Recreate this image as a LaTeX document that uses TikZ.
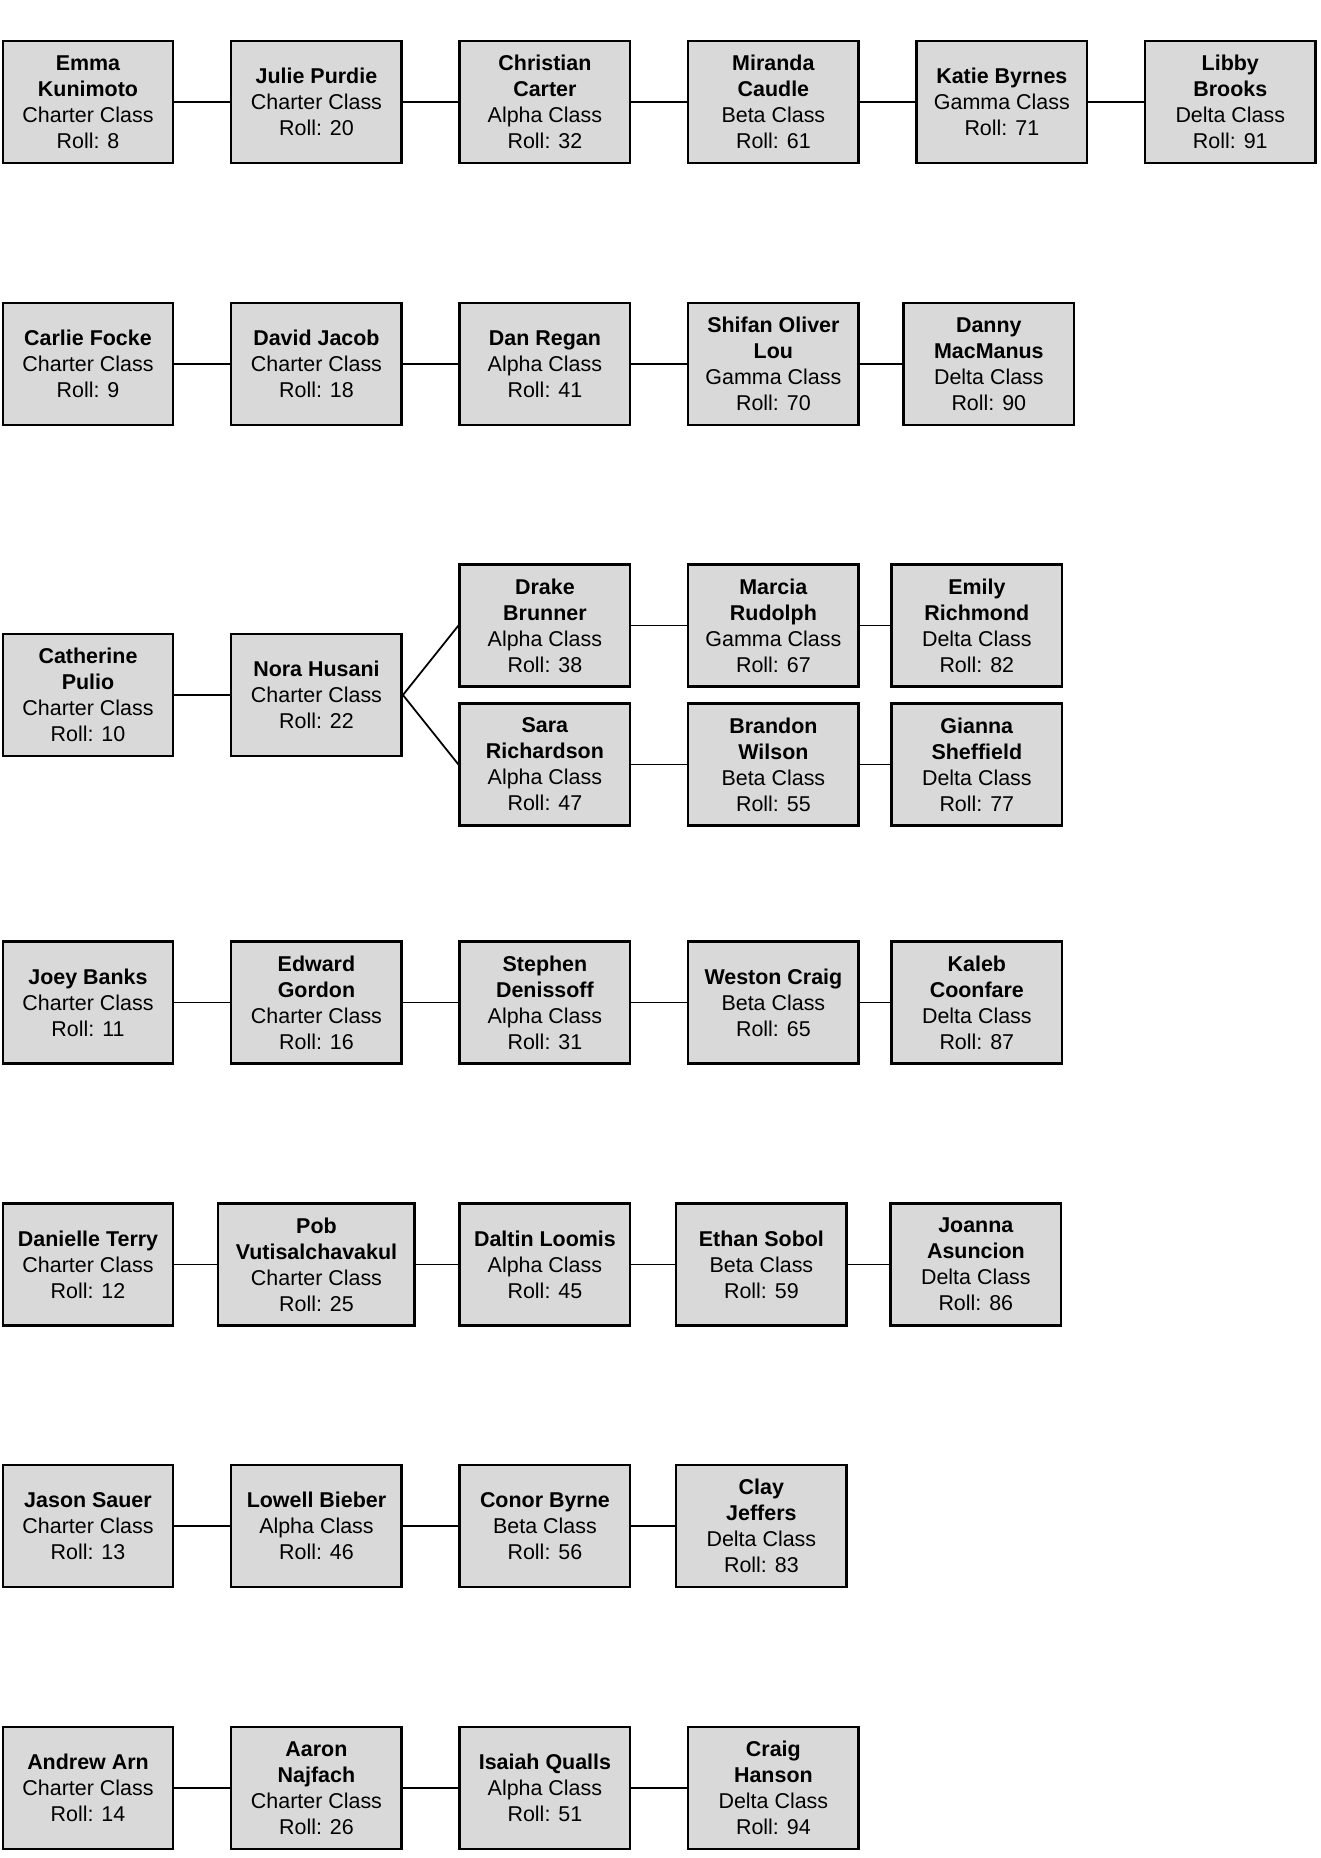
\documentclass[tikz,border=0pt]{standalone}
\usepackage{fontspec}
\setmainfont{Liberation Sans}
\usetikzlibrary{positioning}
\definecolor{boxgray}{HTML}{D9D9D9}

\begin{document}
\begin{tikzpicture}[node distance=1.11cm, every node/.style={font=\fontsize{12.2}{14.8}\selectfont}]
    % Styles
    \tikzstyle{member} = [rectangle, minimum width=3.41cm, minimum height=2.44cm, inner sep=2pt, align=center, draw=black, line width=1.4pt, fill=boxgray]
    \tikzstyle{link} = [line width=1pt]

    \useasboundingbox (0,0) rectangle (26.4,-37.16);

    % Row 1
    \node (emma) [member] at (1.76,-2.04) {\textbf{Emma}\\\textbf{Kunimoto}\\Charter Class\\Roll: 8};
    \node (julie) [member, right=of emma] {\textbf{Julie Purdie}\\Charter Class\\Roll: 20};
    \node (christian) [member, right=of julie] {\textbf{Christian}\\\textbf{Carter}\\Alpha Class\\Roll: 32};
    \node (miranda) [member, right=of christian] {\textbf{Miranda}\\\textbf{Caudle}\\Beta Class\\Roll: 61};
    \node (katie) [member, right=of miranda] {\textbf{Katie Byrnes}\\Gamma Class\\Roll: 71};
    \node (libby) [member, right=of katie] {\textbf{Libby}\\\textbf{Brooks}\\Delta Class\\Roll: 91};

    % Row 2
    \node (carlie) [member] at (1.76,-7.28) {\textbf{Carlie Focke}\\Charter Class\\Roll: 9};
    \node (david) [member, right=of carlie] {\textbf{David Jacob}\\Charter Class\\Roll: 18};
    \node (dan) [member, right=of david] {\textbf{Dan Regan}\\Alpha Class\\Roll: 41};
    \node (shifan) [member, right=of dan] {\textbf{Shifan Oliver}\\\textbf{Lou}\\Gamma Class\\Roll: 70};
    \node (danny) [member, right=0.85cm of shifan] {\textbf{Danny}\\\textbf{MacManus}\\Delta Class\\Roll: 90};

    % Row 3
    \node (catherine) [member] at (1.76,-13.9) {\textbf{Catherine}\\\textbf{Pulio}\\Charter Class\\Roll: 10};
    \node (nora) [member, right=of catherine] {\textbf{Nora Husani}\\Charter Class\\Roll: 22};
    \node (drake) [member, right=of nora, yshift=1.39cm] {\textbf{Drake}\\\textbf{Brunner}\\Alpha Class\\Roll: 38};
    \node (sara) [member, right=of nora, yshift=-1.39cm] {\textbf{Sara}\\\textbf{Richardson}\\Alpha Class\\Roll: 47};
    \node (marcia) [member, right=of drake] {\textbf{Marcia}\\\textbf{Rudolph}\\Gamma Class\\Roll: 67};
    \node (emily) [member, right=0.61cm of marcia] {\textbf{Emily}\\\textbf{Richmond}\\Delta Class\\Roll: 82};
    \node (brandon) [member, right=of sara] {\textbf{Brandon}\\\textbf{Wilson}\\Beta Class\\Roll: 55};
    \node (gianna) [member, right=0.61cm of brandon] {\textbf{Gianna}\\\textbf{Sheffield}\\Delta Class\\Roll: 77};

    % Row 4
    \node (joey) [member] at (1.76,-20.05) {\textbf{Joey Banks}\\Charter Class\\Roll: 11};
    \node (edward) [member, right=of joey] {\textbf{Edward}\\\textbf{Gordon}\\Charter Class\\Roll: 16};
    \node (stephen) [member, right=of edward] {\textbf{Stephen}\\\textbf{Denissoff}\\Alpha Class\\Roll: 31};
    \node (weston) [member, right=of stephen] {\textbf{Weston Craig}\\Beta Class\\Roll: 65};
    \node (kaleb) [member, right=0.61cm of weston] {\textbf{Kaleb}\\\textbf{Coonfare}\\Delta Class\\Roll: 87};

    % Row 5
    \node (danielle) [member] at (1.76,-25.29) {\textbf{Danielle Terry}\\Charter Class\\Roll: 12};
    \node (pob) [member, minimum width=3.93cm, right=0.85cm of danielle] {\textbf{Pob}\\\textbf{Vutisalchavakul}\\Charter Class\\Roll: 25};
    \node (daltin) [member, right=0.85cm of pob] {\textbf{Daltin Loomis}\\Alpha Class\\Roll: 45};
    \node (ethan) [member, right=0.87cm of daltin] {\textbf{Ethan Sobol}\\Beta Class\\Roll: 59};
    \node (joanna) [member, right=0.83cm of ethan] {\textbf{Joanna}\\\textbf{Asuncion}\\Delta Class\\Roll: 86};

    % Row 6
    \node (jason) [member] at (1.76,-30.52) {\textbf{Jason Sauer}\\Charter Class\\Roll: 13};
    \node (lowell) [member, right=of jason] {\textbf{Lowell Bieber}\\Alpha Class\\Roll: 46};
    \node (conor) [member, right=of lowell] {\textbf{Conor Byrne}\\Beta Class\\Roll: 56};
    \node (clay) [member, right=0.87cm of conor] {\textbf{Clay}\\\textbf{Jeffers}\\Delta Class\\Roll: 83};

    % Row 7
    \node (andrew) [member] at (1.76,-35.76) {\textbf{Andrew Arn}\\Charter Class\\Roll: 14};
    \node (aaron) [member, right=of andrew] {\textbf{Aaron}\\\textbf{Najfach}\\Charter Class\\Roll: 26};
    \node (isaiah) [member, right=of aaron] {\textbf{Isaiah Qualls}\\Alpha Class\\Roll: 51};
    \node (craig) [member, right=of isaiah] {\textbf{Craig}\\\textbf{Hanson}\\Delta Class\\Roll: 94};

    % Lines
    \draw [link] (emma) -- (julie);
    \draw [link] (julie) -- (christian);
    \draw [link] (christian) -- (miranda);
    \draw [link] (miranda) -- (katie);
    \draw [link] (katie) -- (libby);

    \draw [link] (carlie) -- (david);
    \draw [link] (david) -- (dan);
    \draw [link] (dan) -- (shifan);
    \draw [link] (shifan) -- (danny);

    \draw [link] (catherine) -- (nora);
    \draw [link] (nora.east) -- (drake.west);
    \draw [link] (nora.east) -- (sara.west);
    \draw [link] (drake) -- (marcia);
    \draw [link] (marcia) -- (emily);
    \draw [link] (sara) -- (brandon);
    \draw [link] (brandon) -- (gianna);

    \draw [link] (joey) -- (edward);
    \draw [link] (edward) -- (stephen);
    \draw [link] (stephen) -- (weston);
    \draw [link] (weston) -- (kaleb);

    \draw [link] (danielle) -- (pob);
    \draw [link] (pob) -- (daltin);
    \draw [link] (daltin) -- (ethan);
    \draw [link] (ethan) -- (joanna);

    \draw [link] (jason) -- (lowell);
    \draw [link] (lowell) -- (conor);
    \draw [link] (conor) -- (clay);

    \draw [link] (andrew) -- (aaron);
    \draw [link] (aaron) -- (isaiah);
    \draw [link] (isaiah) -- (craig);
\end{tikzpicture}
\end{document}
